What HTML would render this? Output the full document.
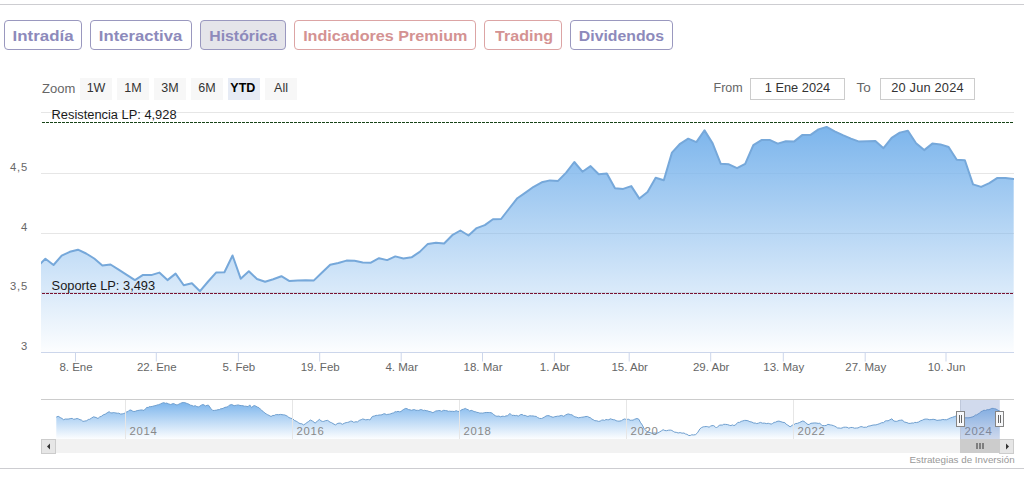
<!DOCTYPE html>
<html><head><meta charset="utf-8"><style>
html,body{margin:0;padding:0;background:#fff;}
body{width:1032px;height:478px;position:relative;overflow:hidden;font-family:"Liberation Sans", sans-serif;}
.wrap{position:absolute;left:0;top:0;width:1024px;height:478px;background:#fff;}
.hl{position:absolute;left:0;width:1024px;height:1px;background:#cdcdd1;}
.btn{position:absolute;top:20px;height:30px;box-sizing:border-box;border:1px solid;border-radius:4px;
 font-weight:bold;font-size:15px;text-align:center;line-height:28px;padding-top:1.4px;white-space:nowrap;}
.pu{border-color:#9a98bf;color:#8d8abb;background:#fff;}
.rd{border-color:#dca4a4;color:#d49292;background:#fff;}
.act{background:#e5e5ea;}
</style></head><body>
<div class="wrap"></div>
<div class="hl" style="top:4px"></div>
<div class="hl" style="top:468px"></div>
<div class="btn pu" style="left:4px;width:78px"><span style="display:inline-block;transform:scaleX(1.125);transform-origin:50% 50%;">Intradía</span></div><div class="btn pu" style="left:90px;width:102px"><span style="display:inline-block;transform:scaleX(1.11);transform-origin:50% 50%;">Interactiva</span></div><div class="btn pu act" style="left:200px;width:86px"><span style="display:inline-block;transform:scaleX(1.055);transform-origin:50% 50%;">Histórica</span></div><div class="btn rd" style="left:294px;width:182px"><span style="display:inline-block;transform:scaleX(1.077);transform-origin:50% 50%;">Indicadores Premium</span></div><div class="btn rd" style="left:484px;width:78px"><span style="display:inline-block;transform:scaleX(1.07);transform-origin:50% 50%;position:relative;left:1px;">Trading</span></div><div class="btn pu" style="left:570px;width:103px"><span style="display:inline-block;transform:scaleX(1.054);transform-origin:50% 50%;">Dividendos</span></div>
<svg width="1032" height="478" viewBox="0 0 1032 478" style="position:absolute;left:0;top:0" font-family='"Liberation Sans", sans-serif'><defs><linearGradient id="g1" x1="0" y1="0" x2="0" y2="1"><stop offset="0" stop-color="#7cb5ec" stop-opacity="1"/><stop offset="1" stop-color="#7cb5ec" stop-opacity="0.02"/></linearGradient><linearGradient id="g2" x1="0" y1="0" x2="0" y2="1"><stop offset="0" stop-color="#7cb5ec" stop-opacity="1"/><stop offset="1" stop-color="#7cb5ec" stop-opacity="0.02"/></linearGradient><clipPath id="cp"><rect x="41" y="111.5" width="973" height="241.0"/></clipPath></defs><path d="M41 112.5 L1014 112.5" stroke="#e6e6e6" stroke-width="1"/><path d="M41 173.5 L1014 173.5" stroke="#e6e6e6" stroke-width="1"/><path d="M41 233.5 L1014 233.5" stroke="#e6e6e6" stroke-width="1"/><path d="M41 292.5 L1014 292.5" stroke="#e6e6e6" stroke-width="1"/><g clip-path="url(#cp)"><path d="M37.26 266.9 L45.4 258.8 L53.54 265 L61.67 255.6 L69.81 251.8 L77.95 249.7 L86.09 253.5 L94.22 258.5 L102.36 265.5 L110.5 264.5 L118.63 269.7 L126.77 274.8 L134.91 280.1 L143.04 274.9 L151.18 275.1 L159.32 272.6 L167.46 280.1 L175.59 273.6 L183.73 285.2 L191.87 283.3 L200 291.2 L208.14 281.5 L216.28 272.4 L224.41 272.2 L232.55 255.5 L240.69 278.7 L248.83 271.2 L256.96 279 L265.1 281.8 L273.24 279.3 L281.37 276.2 L289.51 281.1 L297.65 280.6 L305.78 280.3 L313.92 280.4 L322.06 272.5 L330.19 264.8 L338.33 263 L346.47 260.6 L354.61 260.8 L362.74 262.4 L370.88 262.7 L379.02 258.2 L387.15 260.1 L395.29 256.4 L403.43 258.5 L411.56 257.3 L419.7 251.9 L427.84 243.9 L435.98 242.7 L444.11 243.5 L452.25 235.2 L460.39 230.5 L468.52 235.5 L476.66 228.1 L484.8 225.1 L492.94 219.3 L501.07 219 L509.21 208.5 L517.35 198.2 L525.48 192.6 L533.62 186.8 L541.76 182.3 L549.89 180.4 L558.03 180.9 L566.17 172.6 L574.3 162 L582.44 171.7 L590.58 166.1 L598.72 174.3 L606.85 173.5 L614.99 188.2 L623.13 188.9 L631.26 186.1 L639.4 198.6 L647.54 191.9 L655.68 177.7 L663.81 180.2 L671.95 152.6 L680.09 143.8 L688.22 138.7 L696.36 142.1 L704.5 130.4 L712.63 143.4 L720.77 163.8 L728.91 164.3 L737.04 168.2 L745.18 163.8 L753.32 145.1 L761.46 140.1 L769.59 139.9 L777.73 143.6 L785.87 141.3 L794 141.6 L802.14 135.1 L810.28 135.1 L818.42 129.4 L826.55 126.9 L834.69 131.3 L842.83 135.1 L850.96 138.6 L859.1 141.6 L867.24 141.3 L875.37 141 L883.51 148.2 L891.65 137.8 L899.78 132.6 L907.92 130.7 L916.06 143.2 L924.2 150.1 L932.33 143.6 L940.47 144.4 L948.61 147 L956.74 159.7 L964.88 160.2 L973.02 184.4 L981.16 186.9 L989.29 183.1 L997.43 177.9 L1005.57 177.9 L1013.7 179 L1013.7 352.5 L37.26 352.5 Z" fill="url(#g1)"/><path d="M37.26 266.9 L45.4 258.8 L53.54 265 L61.67 255.6 L69.81 251.8 L77.95 249.7 L86.09 253.5 L94.22 258.5 L102.36 265.5 L110.5 264.5 L118.63 269.7 L126.77 274.8 L134.91 280.1 L143.04 274.9 L151.18 275.1 L159.32 272.6 L167.46 280.1 L175.59 273.6 L183.73 285.2 L191.87 283.3 L200 291.2 L208.14 281.5 L216.28 272.4 L224.41 272.2 L232.55 255.5 L240.69 278.7 L248.83 271.2 L256.96 279 L265.1 281.8 L273.24 279.3 L281.37 276.2 L289.51 281.1 L297.65 280.6 L305.78 280.3 L313.92 280.4 L322.06 272.5 L330.19 264.8 L338.33 263 L346.47 260.6 L354.61 260.8 L362.74 262.4 L370.88 262.7 L379.02 258.2 L387.15 260.1 L395.29 256.4 L403.43 258.5 L411.56 257.3 L419.7 251.9 L427.84 243.9 L435.98 242.7 L444.11 243.5 L452.25 235.2 L460.39 230.5 L468.52 235.5 L476.66 228.1 L484.8 225.1 L492.94 219.3 L501.07 219 L509.21 208.5 L517.35 198.2 L525.48 192.6 L533.62 186.8 L541.76 182.3 L549.89 180.4 L558.03 180.9 L566.17 172.6 L574.3 162 L582.44 171.7 L590.58 166.1 L598.72 174.3 L606.85 173.5 L614.99 188.2 L623.13 188.9 L631.26 186.1 L639.4 198.6 L647.54 191.9 L655.68 177.7 L663.81 180.2 L671.95 152.6 L680.09 143.8 L688.22 138.7 L696.36 142.1 L704.5 130.4 L712.63 143.4 L720.77 163.8 L728.91 164.3 L737.04 168.2 L745.18 163.8 L753.32 145.1 L761.46 140.1 L769.59 139.9 L777.73 143.6 L785.87 141.3 L794 141.6 L802.14 135.1 L810.28 135.1 L818.42 129.4 L826.55 126.9 L834.69 131.3 L842.83 135.1 L850.96 138.6 L859.1 141.6 L867.24 141.3 L875.37 141 L883.51 148.2 L891.65 137.8 L899.78 132.6 L907.92 130.7 L916.06 143.2 L924.2 150.1 L932.33 143.6 L940.47 144.4 L948.61 147 L956.74 159.7 L964.88 160.2 L973.02 184.4 L981.16 186.9 L989.29 183.1 L997.43 177.9 L1005.57 177.9 L1013.7 179" fill="none" stroke="#76a8da" stroke-width="2" stroke-linejoin="round" stroke-linecap="round"/></g><path d="M41 352.5 L1014 352.5" stroke="#ccd6eb" stroke-width="1"/><path d="M75.5 352.5 L75.5 361.5" stroke="#ccd6eb" stroke-width="1"/><text x="76.0" y="370.8" text-anchor="middle" font-size="11.5" fill="#666">8. Ene</text><path d="M156.3 352.5 L156.3 361.5" stroke="#ccd6eb" stroke-width="1"/><text x="156.8" y="370.8" text-anchor="middle" font-size="11.5" fill="#666">22. Ene</text><path d="M238.4 352.5 L238.4 361.5" stroke="#ccd6eb" stroke-width="1"/><text x="238.9" y="370.8" text-anchor="middle" font-size="11.5" fill="#666">5. Feb</text><path d="M319.7 352.5 L319.7 361.5" stroke="#ccd6eb" stroke-width="1"/><text x="320.2" y="370.8" text-anchor="middle" font-size="11.5" fill="#666">19. Feb</text><path d="M401.2 352.5 L401.2 361.5" stroke="#ccd6eb" stroke-width="1"/><text x="401.7" y="370.8" text-anchor="middle" font-size="11.5" fill="#666">4. Mar</text><path d="M482.5 352.5 L482.5 361.5" stroke="#ccd6eb" stroke-width="1"/><text x="483.0" y="370.8" text-anchor="middle" font-size="11.5" fill="#666">18. Mar</text><path d="M554.4 352.5 L554.4 361.5" stroke="#ccd6eb" stroke-width="1"/><text x="554.9" y="370.8" text-anchor="middle" font-size="11.5" fill="#666">1. Abr</text><path d="M629.2 352.5 L629.2 361.5" stroke="#ccd6eb" stroke-width="1"/><text x="629.7" y="370.8" text-anchor="middle" font-size="11.5" fill="#666">15. Abr</text><path d="M710.7 352.5 L710.7 361.5" stroke="#ccd6eb" stroke-width="1"/><text x="711.2" y="370.8" text-anchor="middle" font-size="11.5" fill="#666">29. Abr</text><path d="M783.3 352.5 L783.3 361.5" stroke="#ccd6eb" stroke-width="1"/><text x="783.8" y="370.8" text-anchor="middle" font-size="11.5" fill="#666">13. May</text><path d="M865.2 352.5 L865.2 361.5" stroke="#ccd6eb" stroke-width="1"/><text x="865.7" y="370.8" text-anchor="middle" font-size="11.5" fill="#666">27. May</text><path d="M946.0 352.5 L946.0 361.5" stroke="#ccd6eb" stroke-width="1"/><text x="946.5" y="370.8" text-anchor="middle" font-size="11.5" fill="#666">10. Jun</text><text x="28.2" y="171.3" text-anchor="end" font-size="11.2" letter-spacing="0.9" fill="#666">4,5</text><text x="28.2" y="231.3" text-anchor="end" font-size="11.2" letter-spacing="0.9" fill="#666">4</text><text x="28.2" y="290.3" text-anchor="end" font-size="11.2" letter-spacing="0.9" fill="#666">3,5</text><text x="28.2" y="350.3" text-anchor="end" font-size="11.2" letter-spacing="0.9" fill="#666">3</text><path d="M41 122.5 L1014 122.5" stroke="#174417" stroke-width="1" stroke-dasharray="3,1" stroke-dashoffset="3"/><path d="M41 293.5 L1014 293.5" stroke="#7a1230" stroke-width="1" stroke-dasharray="3,1" stroke-dashoffset="3"/><text x="51.6" y="118.7" font-size="12.85" fill="#1a1a1a">Resistencia LP: 4,928</text><text x="51.6" y="289.8" font-size="12.85" fill="#1a1a1a">Soporte LP: 3,493</text><text x="42" y="92.7" font-size="13" fill="#666">Zoom</text><rect x="80" y="78" width="32" height="22" fill="#f7f7f7"/><text x="96" y="92" text-anchor="middle" font-size="12.5" fill="#333" font-weight="normal">1W</text><rect x="117" y="78" width="32" height="22" fill="#f7f7f7"/><text x="133" y="92" text-anchor="middle" font-size="12.5" fill="#333" font-weight="normal">1M</text><rect x="154" y="78" width="32" height="22" fill="#f7f7f7"/><text x="170" y="92" text-anchor="middle" font-size="12.5" fill="#333" font-weight="normal">3M</text><rect x="191" y="78" width="32" height="22" fill="#f7f7f7"/><text x="207" y="92" text-anchor="middle" font-size="12.5" fill="#333" font-weight="normal">6M</text><rect x="228" y="78" width="32" height="22" fill="#e6ebf5"/><text x="242.8" y="92" text-anchor="middle" font-size="12.5" fill="#000" font-weight="bold">YTD</text><rect x="265" y="78" width="32" height="22" fill="#f7f7f7"/><text x="281" y="92" text-anchor="middle" font-size="12.5" fill="#333" font-weight="normal">All</text><text x="713.5" y="91.7" font-size="12.5" fill="#666">From</text><rect x="750.5" y="78.5" width="94" height="21" fill="#fff" stroke="#ccc" stroke-width="1"/><text x="797.5" y="92" text-anchor="middle" font-size="12.8" fill="#333">1 Ene 2024</text><text x="856.5" y="91.7" font-size="13.5" fill="#666">To</text><rect x="880.5" y="78.5" width="94" height="21" fill="#fff" stroke="#ccc" stroke-width="1"/><text x="927.5" y="92" text-anchor="middle" font-size="12.8" letter-spacing="0.2" fill="#333">20 Jun 2024</text><path d="M56.3 417.1 L58.2 416.3 L60.7 417.8 L62.15 418.56 L63.6 419.7 L65.3 419.02 L67 419.1 L68.9 418.97 L70.8 418.5 L72.25 418.43 L73.7 419.3 L75.4 418.94 L77.1 418.5 L78.55 418.95 L80 419.7 L81.45 420.06 L82.9 421.4 L84.85 421.06 L86.8 420.7 L88.25 419.49 L89.7 419.3 L91.65 417.98 L93.6 416.8 L96 417.5 L98 418.5 L99.7 416.93 L101.4 416.3 L103.3 414.8 L105.2 414.2 L107.15 412.87 L109.1 411.7 L110.55 412.71 L112 413 L113.3 412.59 L114.6 412.7 L115.9 413 L117.35 413.24 L118.8 413.2 L120.5 414.04 L122.2 413.9 L123.65 413.53 L125.1 413 L126.57 411.92 L128.03 411.59 L129.5 410.1 L130.95 410.05 L132.4 411 L133.85 411.54 L135.3 411.3 L137.2 410.57 L139.1 410.3 L140.73 409.98 L142.37 410.01 L144 410.5 L145.45 408.74 L146.9 407.4 L148.2 407.51 L149.5 406.58 L150.8 406.7 L152.75 406.29 L154.7 405.7 L156 405.52 L157.3 404.89 L158.6 404.7 L160.5 403.9 L162.4 403 L163.85 402.67 L165.3 403.3 L166.8 403.07 L168.3 403.8 L170.7 404.5 L173.1 403.6 L174.55 403.93 L176 404.9 L177.45 404.75 L178.9 404.2 L180.35 403.42 L181.8 402.8 L183.25 402.5 L184.7 402.6 L186.15 403.19 L187.6 403.6 L189.05 404.35 L190.5 405.2 L191.95 405.48 L193.4 406.2 L195.4 405.7 L196.85 406.62 L198.3 406.9 L199.75 406.27 L201.2 405.2 L203.1 404.5 L205.6 405.9 L207.05 405.27 L208.5 405.2 L210.9 408.6 L212.8 410.5 L214.75 410.38 L216.7 410.1 L218 409.69 L219.3 409.65 L220.6 408.8 L222.05 408.7 L223.5 408.1 L224.95 407.37 L226.4 407.1 L227.85 406.68 L229.3 405.2 L231.7 404.5 L234.1 405.7 L236.6 405.2 L238.3 404.93 L240 405.5 L241.45 405.51 L242.9 405.7 L244.35 406.23 L245.8 406.2 L248.2 406.7 L249.7 404.9 L251.6 407.6 L253.05 406.17 L254.5 405.5 L255.95 406.29 L257.4 407.1 L258.85 407.59 L260.3 409.1 L261.8 410.49 L263.3 411.5 L264.75 412.99 L266.2 413.9 L267.65 414.73 L269.1 415.4 L271 416.5 L272.9 415.4 L274.2 415.55 L275.5 414.66 L276.8 414.6 L278.75 414.71 L280.7 414.4 L282 414.67 L283.3 414.82 L284.6 414.9 L286.05 415.55 L287.5 416.3 L288.95 417.57 L290.4 418.1 L292.8 418.8 L294.5 420.49 L296.2 421.2 L297.5 421.97 L298.8 422.98 L300.1 423.6 L301.8 423.77 L303.5 424.9 L305.2 423.97 L306.9 422.6 L308.6 421.46 L310.3 420 L312.7 421.2 L315.1 423.1 L317.5 421 L319.5 419.3 L320.95 420.89 L322.4 421.4 L323.85 421.4 L325.3 420.7 L327.7 420.4 L330.1 422.2 L331.55 422.66 L333 423.6 L335.4 424.9 L337.9 423.3 L340.3 423.1 L342.3 424.3 L344.7 423.1 L346.15 422.62 L347.6 422.4 L349.05 421.99 L350.5 421.2 L351.95 421.17 L353.4 422.2 L354.7 422.09 L356 421.7 L357.3 422 L359.25 420.43 L361.2 419.7 L362.65 419.01 L364.1 419.3 L365.55 419.8 L367 419.7 L368.45 419.44 L369.9 420 L372.3 416.5 L374.7 415.9 L376.15 415.37 L377.6 415.4 L379.05 415.03 L380.5 414.9 L381.95 414.81 L383.4 413.9 L384.9 413.79 L386.4 414.6 L387.85 414.34 L389.3 414.2 L390.75 413.75 L392.2 413.2 L393.65 412.87 L395.1 411.7 L396.55 411.85 L398 411.3 L399.45 411.8 L400.9 411.5 L403.3 409.6 L405.7 408.4 L407.15 408.76 L408.6 409.6 L410.1 409.86 L411.6 410.3 L413.05 409.79 L414.5 409.6 L415.95 410.37 L417.4 410.3 L418.85 410.45 L420.3 409.6 L421.75 409.67 L423.2 410.5 L424.65 410.24 L426.1 410.7 L427.55 410.81 L429 411.5 L430.45 411.61 L431.9 412.3 L432.9 412.7 L434.35 411.83 L435.8 411 L437.25 410.85 L438.7 410.5 L440.15 410.64 L441.6 411.3 L443.55 410.35 L445.5 410.5 L446.95 410.81 L448.4 411.3 L449.7 411.16 L451 411.37 L452.3 411.3 L454.25 411.5 L456.2 410.7 L457.65 411.31 L459.1 411.5 L460.55 410.57 L462 409.6 L463.7 409.13 L465.4 408.4 L466.85 409.29 L468.3 409.8 L469.7 411 L471.15 410.36 L472.6 410.7 L474.05 411.64 L475.5 411.7 L476.95 412.41 L478.4 412.5 L479.9 413.16 L481.4 413 L482.85 413.18 L484.3 412.7 L486.2 412.48 L488.1 412.5 L489.55 412.49 L491 412.7 L492.5 413.36 L494 414.9 L495.45 415.75 L496.9 416.3 L498.8 416.07 L500.7 416.8 L502 416.22 L503.3 416.28 L504.6 416.5 L506.05 415.83 L507.5 415.9 L509.9 413.4 L511.9 415.4 L513.6 415.32 L515.3 415.6 L516.75 415.41 L518.2 416.2 L520.6 414.6 L522.05 414.45 L523.5 415.4 L525.2 415.42 L526.9 416.2 L527.9 416.5 L529.6 415.76 L531.3 415.9 L533 415.95 L534.7 416.3 L536.15 416.38 L537.6 417.5 L539.55 418.41 L541.5 418.5 L542.95 417.93 L544.4 417.1 L546.1 415.96 L547.8 415.6 L549.25 415.78 L550.7 416.5 L553.1 417.3 L554.55 416.73 L556 416.5 L557.45 416.2 L558.9 416.2 L561.3 415.4 L563.8 416.3 L565.7 414.9 L568.1 413.9 L570.5 414.6 L571.95 414.84 L573.4 415.9 L574.9 416.88 L576.4 417.1 L578.3 417.84 L580.2 417.5 L581.65 417.26 L583.1 417.1 L584.55 416.78 L586 416.5 L587.5 416.44 L589 417.3 L590.45 417.76 L591.9 419.1 L593.35 419.73 L594.8 420.7 L596.7 420.79 L598.6 421.4 L600.1 421.16 L601.6 420.2 L603.05 419.93 L604.5 420.4 L605.95 419.53 L607.4 419.7 L608.85 419.75 L610.3 418.8 L611.75 419.28 L613.2 419.7 L614.65 419.81 L616.1 420.7 L617.55 421 L619 421.2 L621.4 420.7 L622.9 419.7 L624.35 418.98 L625.8 419.3 L627.25 419.33 L628.7 419.3 L630.15 420.28 L631.6 420.2 L633.05 420.15 L634.5 419.3 L637 418.5 L638.9 419.3 L640.3 422.2 L642.3 425.1 L644.2 428.9 L646.15 430.82 L648.1 432.3 L650.05 432.54 L652 433.3 L653.43 433.15 L654.87 432.93 L656.3 433.3 L658 432.9 L659.7 431.9 L661.4 430.84 L663.1 429.7 L664.8 430.51 L666.5 430.7 L668.45 430.21 L670.4 430.1 L671.85 430.45 L673.3 431.4 L674.75 432.19 L676.2 432.3 L678.15 432.98 L680.1 432.6 L682.05 433.19 L684 433 L685.45 433.99 L686.9 434.3 L688.8 435.5 L690.25 435.5 L691.7 434.8 L693.65 434.96 L695.6 434.6 L697.5 432.8 L699.9 428.9 L701.6 427.55 L703.3 426.8 L704.75 426.67 L706.2 426.5 L707.65 426.69 L709.1 427.2 L710.57 426.15 L712.03 425.61 L713.5 425.6 L714.95 426.56 L716.4 428 L718.1 426.29 L719.8 425.1 L721.1 425.05 L722.4 425.07 L723.7 424.3 L725.65 424.39 L727.6 424.6 L729.5 425.3 L730.95 425.58 L732.4 424.9 L733.85 425.54 L735.3 425.1 L737.8 422.4 L739.5 422.4 L741.2 421.4 L742.8 420.92 L744.4 420.43 L746 420.4 L747.95 420.75 L749.9 421.7 L751.85 422.07 L753.8 423.1 L755.25 423.02 L756.7 423.6 L758.6 423.14 L760.5 422.4 L762.45 423.19 L764.4 423.1 L766.35 423.57 L768.3 423.3 L769.75 423.68 L771.2 424.1 L772.65 423.42 L774.1 422.4 L775.55 422.23 L777 421.4 L778.95 421.09 L780.9 421.7 L782.85 422.33 L784.8 422.6 L786.25 424.3 L787.7 425.1 L790.1 426.8 L792.5 425.1 L793.95 424.66 L795.4 423.6 L797.35 423.38 L799.3 422.6 L801 421.78 L802.7 421 L804.15 421.45 L805.6 422.6 L808 424.6 L809.45 424.27 L810.9 423.3 L812.9 423.1 L814.85 422.92 L816.8 423.1 L818.25 423.43 L819.7 423.1 L822.1 425.6 L824.5 425.6 L826.2 425.47 L827.9 424.3 L830.3 424.9 L831.8 425.14 L833.3 425.6 L834.75 426.19 L836.2 427 L837.65 427.99 L839.1 428 L840.55 428.25 L842 428 L843.7 427.24 L845.4 427.2 L847.1 427.29 L848.8 428.2 L850.7 427.47 L852.6 427.5 L854.55 428.2 L856.5 428 L857.95 427.94 L859.4 427.2 L860.85 426.61 L862.3 426.8 L863.75 427.36 L865.2 427.2 L866.65 427.23 L868.1 426.2 L870.05 425.92 L872 425.3 L873.95 424.94 L875.9 424.9 L877.85 424.3 L879.8 423.6 L881.7 422.69 L883.6 422.6 L885.1 421.12 L886.6 420.7 L888.05 420.87 L889.5 420 L891.9 418.8 L893.8 421 L896.2 421.4 L897.65 421.06 L899.1 420.4 L900.6 420.23 L902.1 420 L904.5 422 L906.9 422.6 L908.85 423.43 L910.8 423.3 L912.1 422.93 L913.4 423.11 L914.7 422.4 L916.65 422.56 L918.6 422 L920.5 420.78 L922.4 420.2 L923.85 419.38 L925.3 419.1 L926.6 419.07 L927.9 419.21 L929.2 419.7 L931.15 419.6 L933.1 419.3 L935.05 419.59 L937 420.4 L938.95 420.11 L940.9 420 L942.8 419.44 L944.7 419.7 L946.65 419.7 L948.6 418.8 L950.55 417.89 L952.5 417.3 L954.45 416.55 L956.4 415.9 L957.77 416.19 L959.13 416.74 L960.5 416.5 L962.03 416.85 L963.57 417.83 L965.1 417.8 L967.05 417.8 L969 417.8 L970.9 417.34 L972.8 416.8 L974.1 416.19 L975.4 415 L976.7 414.9 L978.15 413.88 L979.6 413 L981.05 411.65 L982.5 411 L983.95 410.2 L985.4 410.5 L987.4 409.6 L988.85 409.68 L990.3 409.1 L991.75 408.39 L993.2 408.4 L994.65 408.72 L996.1 409.1 L998 410.3 L999.8 411 L999.8 439 L56.3 439 Z" fill="url(#g2)"/><path d="M56.3 417.1 L58.2 416.3 L60.7 417.8 L62.15 418.56 L63.6 419.7 L65.3 419.02 L67 419.1 L68.9 418.97 L70.8 418.5 L72.25 418.43 L73.7 419.3 L75.4 418.94 L77.1 418.5 L78.55 418.95 L80 419.7 L81.45 420.06 L82.9 421.4 L84.85 421.06 L86.8 420.7 L88.25 419.49 L89.7 419.3 L91.65 417.98 L93.6 416.8 L96 417.5 L98 418.5 L99.7 416.93 L101.4 416.3 L103.3 414.8 L105.2 414.2 L107.15 412.87 L109.1 411.7 L110.55 412.71 L112 413 L113.3 412.59 L114.6 412.7 L115.9 413 L117.35 413.24 L118.8 413.2 L120.5 414.04 L122.2 413.9 L123.65 413.53 L125.1 413 L126.57 411.92 L128.03 411.59 L129.5 410.1 L130.95 410.05 L132.4 411 L133.85 411.54 L135.3 411.3 L137.2 410.57 L139.1 410.3 L140.73 409.98 L142.37 410.01 L144 410.5 L145.45 408.74 L146.9 407.4 L148.2 407.51 L149.5 406.58 L150.8 406.7 L152.75 406.29 L154.7 405.7 L156 405.52 L157.3 404.89 L158.6 404.7 L160.5 403.9 L162.4 403 L163.85 402.67 L165.3 403.3 L166.8 403.07 L168.3 403.8 L170.7 404.5 L173.1 403.6 L174.55 403.93 L176 404.9 L177.45 404.75 L178.9 404.2 L180.35 403.42 L181.8 402.8 L183.25 402.5 L184.7 402.6 L186.15 403.19 L187.6 403.6 L189.05 404.35 L190.5 405.2 L191.95 405.48 L193.4 406.2 L195.4 405.7 L196.85 406.62 L198.3 406.9 L199.75 406.27 L201.2 405.2 L203.1 404.5 L205.6 405.9 L207.05 405.27 L208.5 405.2 L210.9 408.6 L212.8 410.5 L214.75 410.38 L216.7 410.1 L218 409.69 L219.3 409.65 L220.6 408.8 L222.05 408.7 L223.5 408.1 L224.95 407.37 L226.4 407.1 L227.85 406.68 L229.3 405.2 L231.7 404.5 L234.1 405.7 L236.6 405.2 L238.3 404.93 L240 405.5 L241.45 405.51 L242.9 405.7 L244.35 406.23 L245.8 406.2 L248.2 406.7 L249.7 404.9 L251.6 407.6 L253.05 406.17 L254.5 405.5 L255.95 406.29 L257.4 407.1 L258.85 407.59 L260.3 409.1 L261.8 410.49 L263.3 411.5 L264.75 412.99 L266.2 413.9 L267.65 414.73 L269.1 415.4 L271 416.5 L272.9 415.4 L274.2 415.55 L275.5 414.66 L276.8 414.6 L278.75 414.71 L280.7 414.4 L282 414.67 L283.3 414.82 L284.6 414.9 L286.05 415.55 L287.5 416.3 L288.95 417.57 L290.4 418.1 L292.8 418.8 L294.5 420.49 L296.2 421.2 L297.5 421.97 L298.8 422.98 L300.1 423.6 L301.8 423.77 L303.5 424.9 L305.2 423.97 L306.9 422.6 L308.6 421.46 L310.3 420 L312.7 421.2 L315.1 423.1 L317.5 421 L319.5 419.3 L320.95 420.89 L322.4 421.4 L323.85 421.4 L325.3 420.7 L327.7 420.4 L330.1 422.2 L331.55 422.66 L333 423.6 L335.4 424.9 L337.9 423.3 L340.3 423.1 L342.3 424.3 L344.7 423.1 L346.15 422.62 L347.6 422.4 L349.05 421.99 L350.5 421.2 L351.95 421.17 L353.4 422.2 L354.7 422.09 L356 421.7 L357.3 422 L359.25 420.43 L361.2 419.7 L362.65 419.01 L364.1 419.3 L365.55 419.8 L367 419.7 L368.45 419.44 L369.9 420 L372.3 416.5 L374.7 415.9 L376.15 415.37 L377.6 415.4 L379.05 415.03 L380.5 414.9 L381.95 414.81 L383.4 413.9 L384.9 413.79 L386.4 414.6 L387.85 414.34 L389.3 414.2 L390.75 413.75 L392.2 413.2 L393.65 412.87 L395.1 411.7 L396.55 411.85 L398 411.3 L399.45 411.8 L400.9 411.5 L403.3 409.6 L405.7 408.4 L407.15 408.76 L408.6 409.6 L410.1 409.86 L411.6 410.3 L413.05 409.79 L414.5 409.6 L415.95 410.37 L417.4 410.3 L418.85 410.45 L420.3 409.6 L421.75 409.67 L423.2 410.5 L424.65 410.24 L426.1 410.7 L427.55 410.81 L429 411.5 L430.45 411.61 L431.9 412.3 L432.9 412.7 L434.35 411.83 L435.8 411 L437.25 410.85 L438.7 410.5 L440.15 410.64 L441.6 411.3 L443.55 410.35 L445.5 410.5 L446.95 410.81 L448.4 411.3 L449.7 411.16 L451 411.37 L452.3 411.3 L454.25 411.5 L456.2 410.7 L457.65 411.31 L459.1 411.5 L460.55 410.57 L462 409.6 L463.7 409.13 L465.4 408.4 L466.85 409.29 L468.3 409.8 L469.7 411 L471.15 410.36 L472.6 410.7 L474.05 411.64 L475.5 411.7 L476.95 412.41 L478.4 412.5 L479.9 413.16 L481.4 413 L482.85 413.18 L484.3 412.7 L486.2 412.48 L488.1 412.5 L489.55 412.49 L491 412.7 L492.5 413.36 L494 414.9 L495.45 415.75 L496.9 416.3 L498.8 416.07 L500.7 416.8 L502 416.22 L503.3 416.28 L504.6 416.5 L506.05 415.83 L507.5 415.9 L509.9 413.4 L511.9 415.4 L513.6 415.32 L515.3 415.6 L516.75 415.41 L518.2 416.2 L520.6 414.6 L522.05 414.45 L523.5 415.4 L525.2 415.42 L526.9 416.2 L527.9 416.5 L529.6 415.76 L531.3 415.9 L533 415.95 L534.7 416.3 L536.15 416.38 L537.6 417.5 L539.55 418.41 L541.5 418.5 L542.95 417.93 L544.4 417.1 L546.1 415.96 L547.8 415.6 L549.25 415.78 L550.7 416.5 L553.1 417.3 L554.55 416.73 L556 416.5 L557.45 416.2 L558.9 416.2 L561.3 415.4 L563.8 416.3 L565.7 414.9 L568.1 413.9 L570.5 414.6 L571.95 414.84 L573.4 415.9 L574.9 416.88 L576.4 417.1 L578.3 417.84 L580.2 417.5 L581.65 417.26 L583.1 417.1 L584.55 416.78 L586 416.5 L587.5 416.44 L589 417.3 L590.45 417.76 L591.9 419.1 L593.35 419.73 L594.8 420.7 L596.7 420.79 L598.6 421.4 L600.1 421.16 L601.6 420.2 L603.05 419.93 L604.5 420.4 L605.95 419.53 L607.4 419.7 L608.85 419.75 L610.3 418.8 L611.75 419.28 L613.2 419.7 L614.65 419.81 L616.1 420.7 L617.55 421 L619 421.2 L621.4 420.7 L622.9 419.7 L624.35 418.98 L625.8 419.3 L627.25 419.33 L628.7 419.3 L630.15 420.28 L631.6 420.2 L633.05 420.15 L634.5 419.3 L637 418.5 L638.9 419.3 L640.3 422.2 L642.3 425.1 L644.2 428.9 L646.15 430.82 L648.1 432.3 L650.05 432.54 L652 433.3 L653.43 433.15 L654.87 432.93 L656.3 433.3 L658 432.9 L659.7 431.9 L661.4 430.84 L663.1 429.7 L664.8 430.51 L666.5 430.7 L668.45 430.21 L670.4 430.1 L671.85 430.45 L673.3 431.4 L674.75 432.19 L676.2 432.3 L678.15 432.98 L680.1 432.6 L682.05 433.19 L684 433 L685.45 433.99 L686.9 434.3 L688.8 435.5 L690.25 435.5 L691.7 434.8 L693.65 434.96 L695.6 434.6 L697.5 432.8 L699.9 428.9 L701.6 427.55 L703.3 426.8 L704.75 426.67 L706.2 426.5 L707.65 426.69 L709.1 427.2 L710.57 426.15 L712.03 425.61 L713.5 425.6 L714.95 426.56 L716.4 428 L718.1 426.29 L719.8 425.1 L721.1 425.05 L722.4 425.07 L723.7 424.3 L725.65 424.39 L727.6 424.6 L729.5 425.3 L730.95 425.58 L732.4 424.9 L733.85 425.54 L735.3 425.1 L737.8 422.4 L739.5 422.4 L741.2 421.4 L742.8 420.92 L744.4 420.43 L746 420.4 L747.95 420.75 L749.9 421.7 L751.85 422.07 L753.8 423.1 L755.25 423.02 L756.7 423.6 L758.6 423.14 L760.5 422.4 L762.45 423.19 L764.4 423.1 L766.35 423.57 L768.3 423.3 L769.75 423.68 L771.2 424.1 L772.65 423.42 L774.1 422.4 L775.55 422.23 L777 421.4 L778.95 421.09 L780.9 421.7 L782.85 422.33 L784.8 422.6 L786.25 424.3 L787.7 425.1 L790.1 426.8 L792.5 425.1 L793.95 424.66 L795.4 423.6 L797.35 423.38 L799.3 422.6 L801 421.78 L802.7 421 L804.15 421.45 L805.6 422.6 L808 424.6 L809.45 424.27 L810.9 423.3 L812.9 423.1 L814.85 422.92 L816.8 423.1 L818.25 423.43 L819.7 423.1 L822.1 425.6 L824.5 425.6 L826.2 425.47 L827.9 424.3 L830.3 424.9 L831.8 425.14 L833.3 425.6 L834.75 426.19 L836.2 427 L837.65 427.99 L839.1 428 L840.55 428.25 L842 428 L843.7 427.24 L845.4 427.2 L847.1 427.29 L848.8 428.2 L850.7 427.47 L852.6 427.5 L854.55 428.2 L856.5 428 L857.95 427.94 L859.4 427.2 L860.85 426.61 L862.3 426.8 L863.75 427.36 L865.2 427.2 L866.65 427.23 L868.1 426.2 L870.05 425.92 L872 425.3 L873.95 424.94 L875.9 424.9 L877.85 424.3 L879.8 423.6 L881.7 422.69 L883.6 422.6 L885.1 421.12 L886.6 420.7 L888.05 420.87 L889.5 420 L891.9 418.8 L893.8 421 L896.2 421.4 L897.65 421.06 L899.1 420.4 L900.6 420.23 L902.1 420 L904.5 422 L906.9 422.6 L908.85 423.43 L910.8 423.3 L912.1 422.93 L913.4 423.11 L914.7 422.4 L916.65 422.56 L918.6 422 L920.5 420.78 L922.4 420.2 L923.85 419.38 L925.3 419.1 L926.6 419.07 L927.9 419.21 L929.2 419.7 L931.15 419.6 L933.1 419.3 L935.05 419.59 L937 420.4 L938.95 420.11 L940.9 420 L942.8 419.44 L944.7 419.7 L946.65 419.7 L948.6 418.8 L950.55 417.89 L952.5 417.3 L954.45 416.55 L956.4 415.9 L957.77 416.19 L959.13 416.74 L960.5 416.5 L962.03 416.85 L963.57 417.83 L965.1 417.8 L967.05 417.8 L969 417.8 L970.9 417.34 L972.8 416.8 L974.1 416.19 L975.4 415 L976.7 414.9 L978.15 413.88 L979.6 413 L981.05 411.65 L982.5 411 L983.95 410.2 L985.4 410.5 L987.4 409.6 L988.85 409.68 L990.3 409.1 L991.75 408.39 L993.2 408.4 L994.65 408.72 L996.1 409.1 L998 410.3 L999.8 411" fill="none" stroke="#6f9fcf" stroke-width="1" stroke-linejoin="round"/><path d="M125.5 399.5 L125.5 439" stroke="#e6e6e6" stroke-width="1"/><text x="129.5" y="434.8" font-size="11.3" letter-spacing="0.75" fill="#888">2014</text><path d="M292.5 399.5 L292.5 439" stroke="#e6e6e6" stroke-width="1"/><text x="296.5" y="434.8" font-size="11.3" letter-spacing="0.75" fill="#888">2016</text><path d="M459.5 399.5 L459.5 439" stroke="#e6e6e6" stroke-width="1"/><text x="463.5" y="434.8" font-size="11.3" letter-spacing="0.75" fill="#888">2018</text><path d="M626.5 399.5 L626.5 439" stroke="#e6e6e6" stroke-width="1"/><text x="630.5" y="434.8" font-size="11.3" letter-spacing="0.75" fill="#888">2020</text><path d="M793.5 399.5 L793.5 439" stroke="#e6e6e6" stroke-width="1"/><text x="797.5" y="434.8" font-size="11.3" letter-spacing="0.75" fill="#888">2022</text><path d="M960.5 399.5 L960.5 439" stroke="#e6e6e6" stroke-width="1"/><text x="964.5" y="434.8" font-size="11.3" letter-spacing="0.75" fill="#888">2024</text><rect x="960" y="399.5" width="39.8" height="39.5" fill="rgba(102,133,194,0.3)"/><path d="M41 399.5 L1014 399.5" stroke="#ccc" stroke-width="1"/><rect x="956.5" y="411.5" width="8" height="15" fill="#f7f8fa" stroke="#858585" stroke-width="1"/><path d="M959.5 415 L959.5 423 M961.5 415 L961.5 423" stroke="#666" stroke-width="1"/><rect x="995.5" y="411.5" width="8" height="15" fill="#f7f8fa" stroke="#858585" stroke-width="1"/><path d="M998.5 415 L998.5 423 M1000.5 415 L1000.5 423" stroke="#666" stroke-width="1"/><rect x="41" y="439" width="973" height="14" fill="#f2f2f2"/><rect x="960" y="439" width="40" height="14" fill="#ccc"/><path d="M977 443 L977 449 M980 443 L980 449 M983 443 L983 449" stroke="#333" stroke-width="1"/><rect x="41.5" y="439.5" width="14" height="14" fill="#e6e6e6" stroke="#ccc" stroke-width="1"/><path d="M47 446.5 L50 443.5 L50 449.5 Z" fill="#333"/><rect x="999.5" y="439.5" width="14" height="14" fill="#e6e6e6" stroke="#ccc" stroke-width="1"/><path d="M1009 446.5 L1006 443.5 L1006 449.5 Z" fill="#333"/><text x="1014.6" y="462.9" text-anchor="end" font-size="9.8" fill="#999">Estrategias de Inversión</text></svg>
</body></html>
